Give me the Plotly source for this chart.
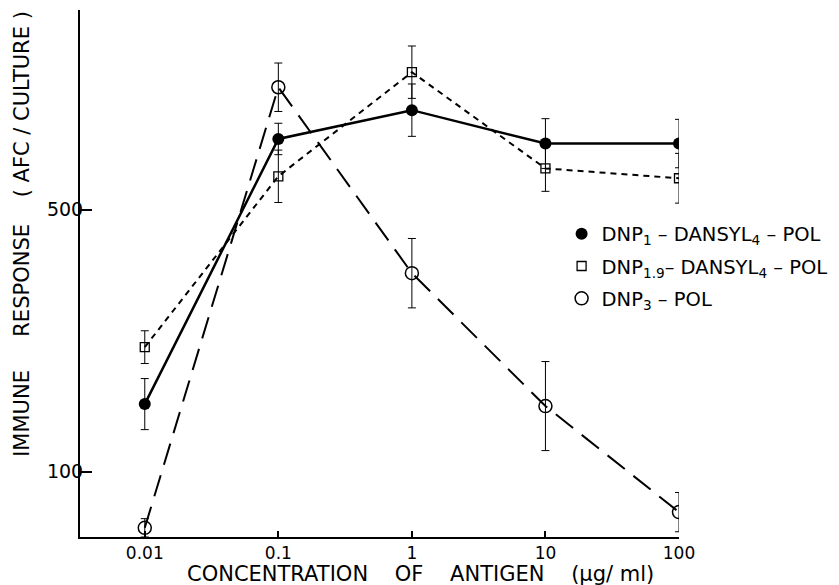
import plotly.graph_objects as go

# antigen concentration (ug/ml)
conc = [0.01, 0.1, 1, 10, 100]

# DNP1-DANSYL4-POL (filled circles, solid line)
dnp1 = [203, 608, 652, 601, 601]
dnp1_err = [39, 24, 40, 38, 37]

# DNP1.9-DANSYL4-POL (open squares, short dashes)
dnp19 = [290, 551, 710, 563, 548]
dnp19_err = [25, 40, 40, 35, 38]

# DNP3-POL (open circles, long dashes)
dnp3 = [14, 687, 403, 200, 38]
dnp3_err = [14, 37, 53, 68, 30]

names = ['DNP<sub>1</sub> – DANSYL<sub>4</sub> – POL',
         'DNP<sub>1.9</sub>– DANSYL<sub>4</sub> – POL',
         'DNP<sub>3</sub> – POL']

x_ticks = [0.01, 0.1, 1, 10, 100]
x_ticktext = ['0.01', '0.1', '1', '10', '100']
y_ticks = [100, 500]

FONT = 'DejaVu Sans'
NB = '\u00a0'

fig = go.Figure()

series = [
    (dnp1, dnp1_err, dict(symbol='circle', size=12, color='black'), 'solid', 2.5),
    (dnp19, dnp19_err, dict(symbol='square-open', size=9, color='black', line=dict(width=1.3)), '6px,5px', 2),
    (dnp3, dnp3_err, dict(symbol='circle-open', size=13, color='black', line=dict(width=1.5)), '22px,11px', 2),
]

for i, ((y, err, marker, dash, lw), name) in enumerate(zip(series, names)):
    fig.add_trace(go.Scatter(
        x=conc, y=y,
        mode='lines+markers',
        line=dict(color='black', width=lw, dash=dash),
        marker=marker,
        error_y=dict(type='data', array=err, color='black', thickness=1, width=4),
        showlegend=False,
    ))
    # legend entry shows only the symbol
    fig.add_trace(go.Scatter(
        x=[None], y=[None], mode='markers', marker=marker, name=name,
        legendgroup=f'g{i}',
    ))

# page body adds 8px offset, so the figure is 8px smaller and margins shifted
fig.update_layout(
    width=831, height=577,
    plot_bgcolor='white', paper_bgcolor='white',
    margin=dict(l=72, r=160, t=2, b=48, autoexpand=False),
    font=dict(family=FONT, color='black', size=18),
    xaxis=dict(
        type='log', range=[-2.485, 2.0],
        tickvals=x_ticks, ticktext=x_ticktext,
        ticks='inside', ticklen=6, tickwidth=1.5, tickcolor='black',
        showline=True, linecolor='black', linewidth=2,
        showgrid=False, zeroline=False,
        tickfont=dict(size=17),
    ),
    yaxis=dict(
        range=[0, 805],
        tickvals=y_ticks,
        ticks='inside', ticklen=12, tickwidth=2, tickcolor='black',
        showline=True, linecolor='black', linewidth=2,
        showgrid=False, zeroline=False,
        tickfont=dict(size=19), ticklabelstandoff=-9,
    ),
    legend=dict(
        x=0.804, y=0.612, xanchor='left', yanchor='top',
        bgcolor='rgba(0,0,0,0)', font=dict(size=19.5),
        itemsizing='trace', itemwidth=30, tracegroupgap=4,
    ),
)

fig.add_annotation(
    text='IMMUNE' + NB * 5 + 'RESPONSE' + NB * 4 + '(' + NB + 'AFC' + NB + '/' + NB + 'CULTURE' + NB + ')',
    xref='paper', yref='paper', x=-0.097, y=0.575,
    xanchor='center', yanchor='middle', textangle=-90,
    showarrow=False, font=dict(size=21),
)
fig.add_annotation(
    text='CONCENTRATION' + NB * 4 + 'OF' + NB * 4 + 'ANTIGEN' + NB * 4 + '(μg/' + NB + 'ml)',
    xref='paper', yref='paper', x=0.569, y=-0.071,
    xanchor='center', yanchor='middle',
    showarrow=False, font=dict(size=21),
)

fig.write_html('out.html')
